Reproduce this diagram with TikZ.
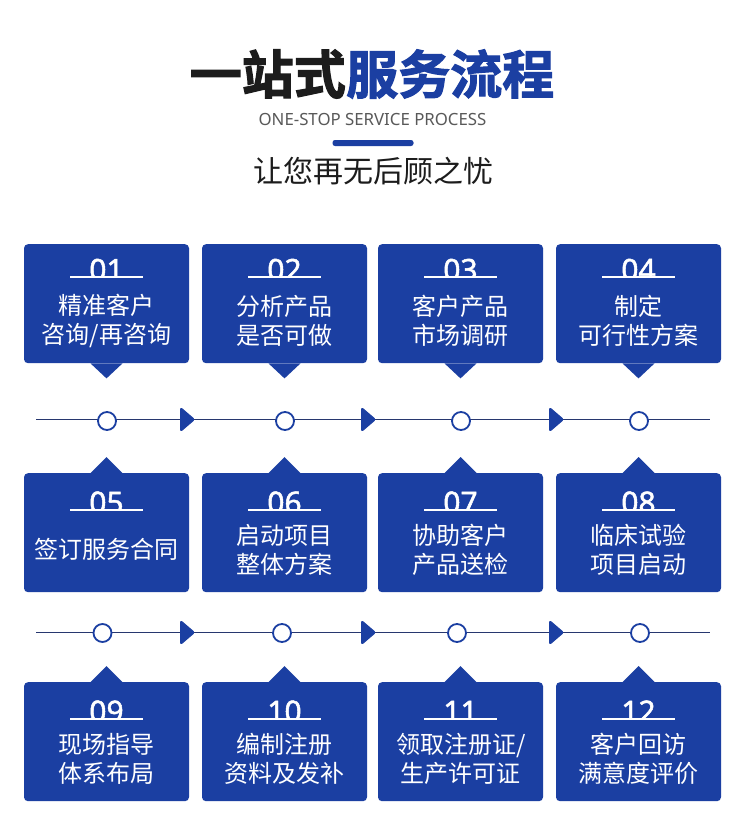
\documentclass[tikz,border=0pt]{standalone}
\usepackage{fontspec}
\setmainfont{Noto Sans}
\newfontfamily\cjk{Noto Sans CJK SC}
\newfontfamily\cjkbold[FakeBold=2.2]{Noto Sans CJK SC Bold}
\newfontfamily\numfont[FakeBold=1.6]{Noto Sans}
\definecolor{brand}{HTML}{1B3FA2}
\definecolor{railc}{HTML}{27376F}
\definecolor{inkc}{HTML}{1C1C1C}
\newlength{\ruledrop}
\tikzset{
  x=1pt,y=-1pt,
  card/.style={fill=brand,draw=none,rounded corners=4pt,minimum width=165pt,minimum height=119pt,inner sep=0pt,anchor=north},
  tailshape/.style={fill=brand,draw=none},
  cardtext/.style={text=white,font=\fontsize{24}{29}\selectfont\cjk,align=center,inner sep=0pt,anchor=center},
  numtext/.style={text=white,font=\fontsize{30}{30}\selectfont\numfont,inner sep=0pt,anchor=base},
  numrule/.style={draw=white,line width=1.6pt},
  rail/.style={draw=railc,line width=1.2pt},
  stopdot/.style={circle,draw=brand,line width=1.8pt,fill=white,minimum size=18pt,inner sep=0pt},
  pointer/.style={fill=brand,draw=brand,line width=1pt,line join=round,rounded corners=1.5pt},
}
% name, centre x, box top, tail sign (1 down, -1 up), number, text
\newcommand{\stepcard}[6]{
  \node[card] (#1) at (#2,#3) {};
  \ifnum#4=1
    \setlength{\ruledrop}{33pt}
    \fill[tailshape] ([xshift=-16pt]#1.south) -- ([yshift=-15pt]#1.south) -- ([xshift=16pt]#1.south) -- cycle;
  \else
    \setlength{\ruledrop}{36.7pt}
    \fill[tailshape] ([xshift=-16pt]#1.north) -- ([yshift=16pt]#1.north) -- ([xshift=16pt]#1.north) -- cycle;
  \fi
  \begin{scope}
    \clip ([xshift=-60pt,yshift=-8pt]#1.north) rectangle ([xshift=60pt,yshift=-\ruledrop]#1.north);
    \node[numtext] (#1num) at ([yshift=-\ruledrop-3.5pt]#1.north) {#5};
  \end{scope}
  \coordinate (#1a) at ([xshift=-36.5pt,yshift=-\ruledrop]#1.north);
  \coordinate (#1b) at ([xshift=36.5pt,yshift=-\ruledrop]#1.north);
  \draw[numrule] (#1a) -- (#1b);
  \node[cardtext] (#1txt) at ([xshift=0.2pt,yshift=-76.5pt]#1.north) {#6};
}
% name, x, y
\newcommand{\pointerhead}[3]{
  \coordinate (#1) at (#2,#3);
  \fill[pointer] ([xshift=0.5pt,yshift=12pt]#1) -- ([xshift=0.5pt,yshift=-12pt]#1) -- ([xshift=14.5pt]#1) -- cycle;
}
\begin{document}
\begin{tikzpicture}
\useasboundingbox (0,0) rectangle (742,832);
\fill[white] (0,0) rectangle (742,832);

\node[inner sep=0pt,anchor=east,text=inkc,font=\fontsize{52}{52}\selectfont\cjkbold] (titlea) at (346,74) {一站式};
\node[inner sep=0pt,anchor=west,text=brand,font=\fontsize{52}{52}\selectfont\cjkbold] (titleb) at (346,74) {服务流程};
\node[inner sep=0pt,text=black!65,font=\fontsize{16.8}{16.8}\selectfont] (eng) at (372.5,119) {ONE-STOP SERVICE PROCESS};
\node[fill=brand,minimum width=81pt,minimum height=6pt,rounded corners=2.5pt,inner sep=0pt] (bar) at (373,143) {};
\node[inner sep=0pt,text=inkc,font=\fontsize{30}{30}\selectfont\cjk] (subt) at (373,171) {让您再无后顾之忧};

\stepcard{c1}{106.5}{244}{1}{01}{精准客户\\咨询/再咨询}
\stepcard{c2}{284.5}{244}{1}{02}{分析产品\\是否可做}
\stepcard{c3}{460.5}{244}{1}{03}{客户产品\\市场调研}
\stepcard{c4}{638.5}{244}{1}{04}{制定\\可行性方案}
\stepcard{c5}{106.5}{473}{-1}{05}{签订服务合同}
\stepcard{c6}{284.5}{473}{-1}{06}{启动项目\\整体方案}
\stepcard{c7}{460.5}{473}{-1}{07}{协助客户\\产品送检}
\stepcard{c8}{638.5}{473}{-1}{08}{临床试验\\项目启动}
\stepcard{c9}{106.5}{682}{-1}{09}{现场指导\\体系布局}
\stepcard{c10}{284.5}{682}{-1}{10}{编制注册\\资料及发补}
\stepcard{c11}{460.5}{682}{-1}{11}{领取注册证/\\生产许可证}
\stepcard{c12}{638.5}{682}{-1}{12}{客户回访\\满意度评价}

\coordinate (railAs) at (36,419.5);
\coordinate (railAe) at (710,419.5);
\draw[rail] (railAs) -- (railAe);
\coordinate (railBs) at (36,632.5);
\coordinate (railBe) at (710,632.5);
\draw[rail] (railBs) -- (railBe);

\node[stopdot] (d1) at (107,421) {};
\node[stopdot] (d2) at (285,421) {};
\node[stopdot] (d3) at (461,421) {};
\node[stopdot] (d4) at (639,421) {};
\node[stopdot] (d5) at (102.5,633) {};
\node[stopdot] (d6) at (282,633) {};
\node[stopdot] (d7) at (457,633) {};
\node[stopdot] (d8) at (640,633) {};

\pointerhead{p1}{180}{419.5}
\pointerhead{p2}{361}{419.5}
\pointerhead{p3}{549}{419.5}
\pointerhead{p4}{180}{632.5}
\pointerhead{p5}{361}{632.5}
\pointerhead{p6}{549}{632.5}
\end{tikzpicture}
\end{document}
